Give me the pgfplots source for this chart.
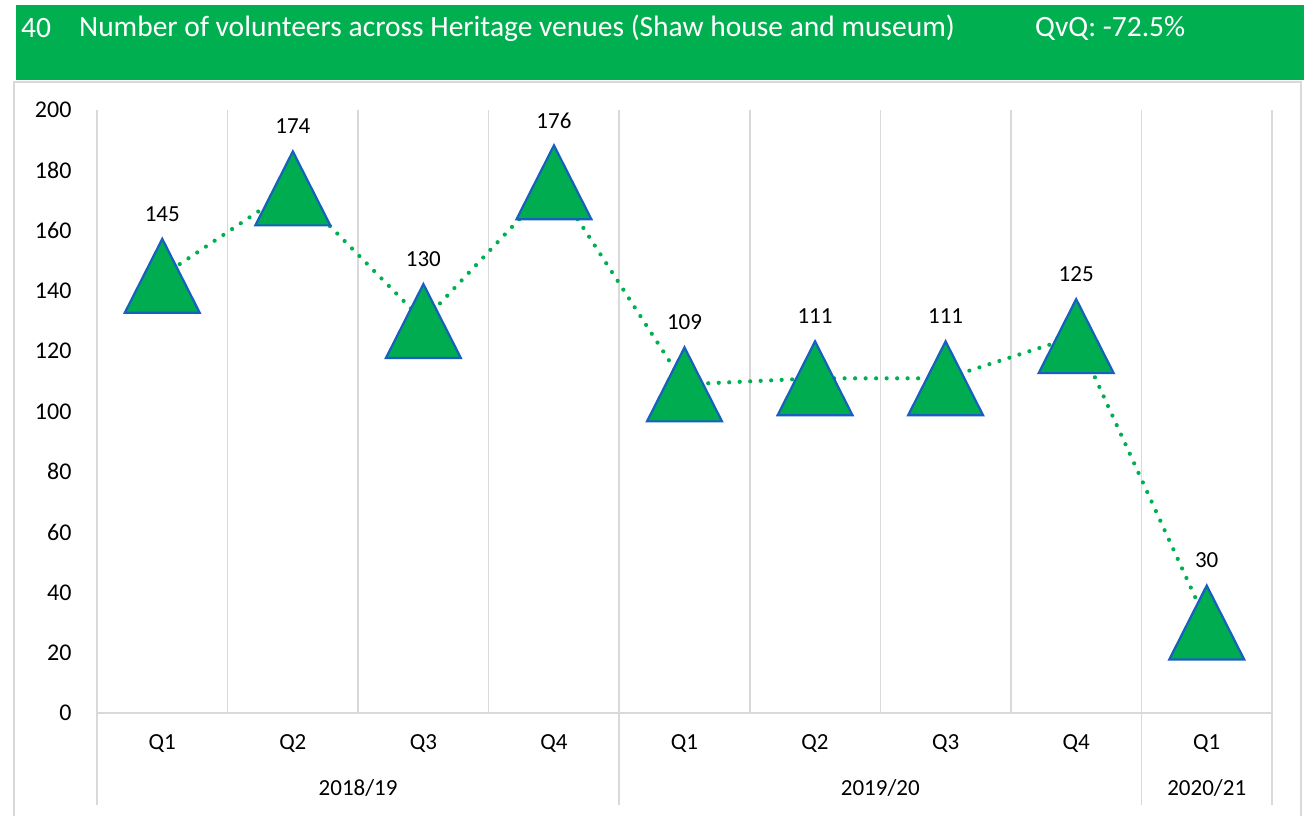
\documentclass[border=0pt]{standalone}
\usepackage{pgfplots}
\pgfplotsset{compat=1.18}
\usepackage{fontspec}
\setmainfont{Carlito}
\definecolor{hdrgreen}{HTML}{00B050}
\definecolor{mkgreen}{HTML}{00AC50}
\definecolor{mkblue}{HTML}{1860C0}
\definecolor{gridgray}{HTML}{D9D9D9}
\pgfdeclareplotmark{tri}{%
  \pgfpathmoveto{\pgfpoint{0bp}{37bp}}%
  \pgfpathlineto{\pgfpoint{37.5bp}{-37bp}}%
  \pgfpathlineto{\pgfpoint{-37.5bp}{-37bp}}%
  \pgfpathclose
  \pgfusepathqfillstroke}
\pgfplotstableread{
x y
0 145
1 174
2 130
3 176
4 109
5 111
6 111
7 125
8 30
}\datatable
\begin{document}
\begin{tikzpicture}[x=1bp,y=1bp]
\useasboundingbox (0,0) rectangle (1304,815);
% header band
\fill[hdrgreen] (16,735) rectangle (1304,810);
\node[anchor=west,text=white,font=\fontsize{29.5bp}{33bp}\selectfont,inner sep=0] at (21,787) {40};
\node[anchor=west,text=white,font=\fontsize{29.5bp}{33bp}\selectfont,inner sep=0] at (79,787) {Number of volunteers across Heritage venues (Shaw house and museum)};
\node[anchor=west,text=white,font=\fontsize{29.5bp}{33bp}\selectfont,inner sep=0] at (1035,787) {QvQ: -72.5\%};
% border
\draw[gridgray,line width=1.5bp] (14,-5) -- (14,733) -- (1301,733) -- (1301,-5);
\begin{axis}[
  at={(97bp,102bp)}, anchor=south west,
  scale only axis, width=1175bp, height=603bp,
  xmin=-0.5, xmax=8.5, ymin=0, ymax=200,
  clip=false,
  axis line style={draw=none},
  xtick={0,...,8},
  xticklabels={Q1,Q2,Q3,Q4,Q1,Q2,Q3,Q4,Q1},
  minor xtick={-0.5,0.5,...,8.5},
  xminorgrids=true,
  minor grid style={gridgray,line width=1.5bp},
  major tick length=0pt, minor tick length=0pt,
  ytick={0,20,...,200},
  tick style={draw=none},
  xticklabel style={anchor=center,yshift=-31bp,font=\fontsize{23bp}{26bp}\selectfont},
  yticklabel style={anchor=east,xshift=-22bp,font=\fontsize{24bp}{28bp}\selectfont},
  /pgf/number format/assume math mode=true,
  nodes near coords,
  nodes near coords style={anchor=center,yshift=62bp,font=\fontsize{23bp}{26bp}\selectfont,text=black},
]
\draw[gridgray,line width=1.5bp] (axis cs:-0.5,0) -- (axis cs:8.5,0);
\pgfplotsinvokeforeach{-0.5,3.5,7.5,8.5}{
  \draw[gridgray,line width=1.5bp] (axis cs:#1,0) -- ++(0bp,-92bp);
}
\node[font=\fontsize{23bp}{26bp}\selectfont] at (axis cs:1.5,0) [yshift=-75bp] {2018/19};
\node[font=\fontsize{23bp}{26bp}\selectfont] at (axis cs:5.5,0) [yshift=-75bp] {2019/20};
\node[font=\fontsize{23bp}{26bp}\selectfont] at (axis cs:8,0) [yshift=-75bp] {2020/21};
\addplot[hdrgreen, line width=4.2bp, line cap=round, dash pattern=on 0bp off 10.5bp,
  mark=tri, mark options={solid, fill=mkgreen, draw=mkblue, line width=2.2bp}]
  table[x=x,y=y] {\datatable};
\end{axis}
\end{tikzpicture}
\end{document}
